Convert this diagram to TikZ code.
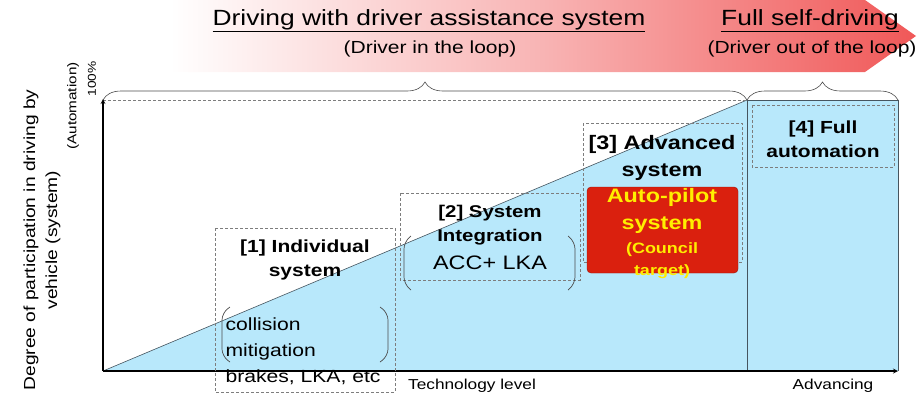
\documentclass[tikz,border=0pt]{standalone}
\usepackage{fontspec}
\setmainfont{Liberation Sans}[FakeStretch=1.2]
\usepackage{tikz}
\usetikzlibrary{calc}
\usetikzlibrary{positioning}
\usetikzlibrary{arrows}
\usetikzlibrary{decorations.pathreplacing}

\definecolor{skyfill}{RGB}{184,232,251}
\definecolor{bannerred}{RGB}{240,88,88}
\definecolor{pilotred}{RGB}{218,32,14}
\definecolor{pilotyellow}{RGB}{255,238,0}
\definecolor{boxgray}{RGB}{125,125,125}
\definecolor{edgegray}{RGB}{70,85,95}

\begin{document}
\begin{tikzpicture}[x=1pt, y=-1pt,
	stagebox/.style={draw=boxgray, dash pattern=on 3pt off 2pt, line width=0.9pt},
	stagelabel/.style={align=center, font=\bfseries\fontsize{17.5}{24}\selectfont},
	bracketline/.style={draw=black!70, line width=0.7pt, rounded corners=7pt},
	bracefig/.style={decorate, decoration={brace, amplitude=18pt}, draw=black!70, line width=0.6pt}]
				\useasboundingbox (0,0) rectangle (919,397);
				
				% banner
				\shade[left color=white, right color=bannerred, middle color=bannerred!45] (170,0) -- (865,0) -- (916,36) -- (865,72) -- (170,72) -- cycle;
				\node[font=\fontsize{22}{26}\selectfont] (assist) at (429,21) {\underline{Driving with driver assistance system}};
				\node[font=\fontsize{17.5}{20}\selectfont] (inloop) at (430,49) {(Driver in the loop)};
				\node[font=\fontsize{22}{26}\selectfont] (selfdrive) at (810,21) {\underline{Full self-driving}};
				\node[font=\fontsize{17.5}{20}\selectfont] (outloop) at (812,49) {(Driver out of the loop)};
				
				% chart frame
				\coordinate (origin) at (103,371);
				\coordinate (top) at (103,100);
				\coordinate (split) at (747,100);
				\coordinate (far) at (898,100);
				\coordinate (xend) at (898,371);
				\coordinate (splitbase) at (747,371);
				
				\fill[skyfill] (origin) -- (split) -- (far) -- (xend) -- cycle;
				\draw[edgegray, line width=0.6pt] (origin) -- (split);
				\draw[edgegray, line width=0.8pt] (split) -- (far) -- (xend);
				\draw[edgegray, line width=0.8pt] (split) -- (splitbase);
				\draw[boxgray, dash pattern=on 3pt off 2pt, line width=0.8pt] (top) -- (split);
				
				\draw[bracefig] (top) -- (split);
				\draw[bracefig] (split) -- (far);
				
				\draw[line width=1.2pt, ->, >=stealth] (origin) -- (xend);
				\draw[line width=1.2pt, ->, >=stealth] (origin) -- ($(top)+(0,-1)$);
				
				% axis labels
				\node[rotate=90, align=center, font=\fontsize{16}{22}\selectfont] (ylabel) at (42,240) {Degree of participation in driving by\\vehicle (system)};
				\node[rotate=90, font=\fontsize{12.7}{14}\selectfont] (autolabel) at (73,106) {(Automation)};
				\node[rotate=90, anchor=west, font=\fontsize{11.4}{13}\selectfont] (pct) at (92,100) {100\%};
				\node[font=\fontsize{14.4}{16}\selectfont] (techlevel) at (472,386) {Technology level};
				\node[font=\fontsize{14.4}{16}\selectfont] (advancing) at (833,386) {Advancing};
				
				% [1] individual system
				\draw[stagebox] (215,228) rectangle (395,392);
				\node[stagelabel] (stage1) at (305,260) {[1] Individual\\system};
				\draw[bracketline] (230,307) -- (222,313) -- (222,356) -- (230,362);
				\draw[bracketline] (380,307) -- (388,313) -- (388,356) -- (380,362);
				\node[anchor=west, align=left, font=\fontsize{17.6}{26}\selectfont] (examples1) at (222,351) {collision\\mitigation\\brakes, LKA, etc};
				
				% [2] system integration
				\draw[stagebox] (400,193) rectangle (580,280);
				\node[stagelabel, font=\bfseries\fontsize{17}{24}\selectfont] (stage2) at (490,225) {[2] System\\Integration};
				\draw[bracketline] (411,236) -- (404,242) -- (404,284) -- (411,290);
				\draw[bracketline] (568,236) -- (575,242) -- (575,284) -- (568,290);
				\node[font=\fontsize{19.5}{22}\selectfont] (examples2) at (490,263) {ACC+ LKA};
				
				% [3] advanced system
				\draw[stagebox] (583,123) rectangle (742,262);
				\node[stagelabel, font=\bfseries\fontsize{19.5}{27}\selectfont] (stage3) at (662,158) {[3] Advanced\\system};
				\node[draw=pilotred!70!black, fill=pilotred, rounded corners=4pt, minimum width=151pt, minimum height=86pt] (pilot) at (662.5,230) {};
				\node[align=center, text=pilotyellow, font=\bfseries\fontsize{19.5}{27}\selectfont] (pilotname) at (662,211) {Auto-pilot\\system};
				\node[align=center, text=pilotyellow, font=\bfseries\fontsize{15}{22}\selectfont] (pilotnote) at (662,261) {(Council\\target)};
				
				% [4] full automation
				\draw[stagebox] (752,105) rectangle (894,167);
				\node[stagelabel] (stage4) at (823,139) {[4] Full\\automation};
			\end{tikzpicture}
\end{document}
